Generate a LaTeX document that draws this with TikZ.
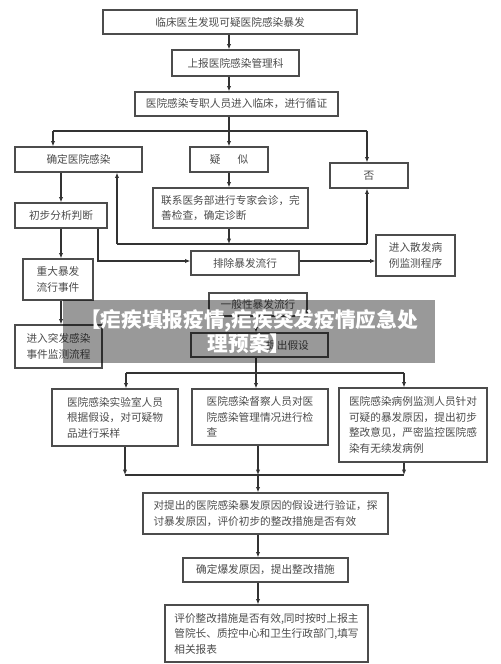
\documentclass[tikz,border=0pt]{standalone}
\usepackage{fontspec}
\setmainfont{Noto Sans CJK SC}
\usetikzlibrary{arrows.meta}
\begin{document}
\begin{tikzpicture}[x=0.75pt,y=-0.75pt,
  box/.style={draw=black!70, line width=0.9pt, fill=white, text=black!70, font=\fontsize{8}{11.6}\selectfont, align=left, inner sep=2pt},
  con/.style={draw=black!80, line width=0.8pt},
  arr/.style={con, -{Latex[length=4pt,width=3.2pt]}},
  banner/.style={fill=black, fill opacity=0.4, text opacity=1, text=white, font=\fontsize{15.5}{18}\selectfont\bfseries, align=center}]
\useasboundingbox (0,0) rectangle (500,664);
\fill[white] (0,0) rectangle (500,664);

\node[box, minimum width=190.5pt, minimum height=18pt] (n1) at (230,22) {临床医生发现可疑医院感染暴发};
\node[box, minimum width=95.25pt, minimum height=19.5pt] (n2) at (235.5,63) {上报医院感染管理科};
\node[box, minimum width=152.25pt, minimum height=18pt] (n3) at (236.5,104) {医院感染专职人员进入临床，进行循证};
\node[box, minimum width=95.25pt, minimum height=18.75pt] (n4) at (78.5,159.5) {确定医院感染};
\node[box, minimum width=58.5pt, minimum height=18.75pt] (n5) at (229,159.5) {疑\hspace{1.6em}似};
\node[box, minimum width=58.5pt, minimum height=18.75pt] (n6) at (369,175.5) {否};
\node[box, minimum width=116.25pt, minimum height=30pt] (n7) at (230.5,208) {联系医务部进行专家会诊，完\\善检查，确定诊断};
\node[box, minimum width=69pt, minimum height=18.75pt] (n8) at (61,215.5) {初步分析判断};
\node[box, minimum width=52.5pt, minimum height=30.75pt] (n9) at (58,279.5) {重大暴发\\流行事件};
\node[box, minimum width=65.25pt, minimum height=32.25pt] (n10) at (58.5,346.5) {进入突发感染\\事件监测流程};
\node[box, minimum width=81pt, minimum height=18pt] (n11) at (245,263) {排除暴发流行};
\node[box, minimum width=59.25pt, minimum height=30.75pt] (n12) at (415.5,255.5) {进入散发病\\例监测程序};
\node[box, minimum width=73.5pt, minimum height=17.25pt] (n13) at (258,304.5) {一般性暴发流行};
\node[box, minimum width=102.75pt, minimum height=18pt] (n14) at (259.5,345) {\hspace*{42pt}提出假设};
\node[box, minimum width=94.5pt, minimum height=42.75pt] (n15) at (115,417.5) {医院感染实验室人员\\根据假设，对可疑物\\品进行采样};
\node[box, minimum width=102pt, minimum height=42pt] (n16) at (260,417) {医院感染督察人员对医\\院感染管理情况进行检\\查};
\node[box, minimum width=111pt, minimum height=55.5pt] (n17) at (413,425) {医院感染病例监测人员针对\\可疑的暴发原因，提出初步\\整改意见，严密监控医院感\\染有无续发病例};
\node[box, minimum width=183.75pt, minimum height=30.75pt] (n18) at (265.5,513.5) {对提出的医院感染暴发原因的假设进行验证，探\\讨暴发原因，评价初步的整改措施是否有效};
\node[box, minimum width=123.75pt, minimum height=18pt] (n19) at (265.5,570) {确定爆发原因，提出整改措施};
\node[box, minimum width=152.25pt, minimum height=42.75pt] (n20) at (266.5,633.5) {评价整改措施是否有效,同时按时上报主\\管院长、质控中心和卫生行政部门,填写\\相关报表};

% upper connectors
\coordinate (vx) at (229,0);
\draw[arr] (n1.south -| vx) -- (n2.north -| vx);
\draw[arr] (n2.south -| vx) -- (n3.north -| vx);
\coordinate (j1) at (229,131);
\coordinate (a4) at (53,131);
\coordinate (a6) at (367,131);
\draw[con] (n3.south -| vx) -- (j1);
\draw[con] (a4) -- (a6);
\draw[arr] (a4) -- (a4 |- n4.north);
\draw[arr] (j1) -- (j1 |- n5.north);
\draw[arr] (a6) -- (a6 |- n6.north);
\draw[arr] (n5.south -| vx) -- (n7.north -| vx);
\coordinate (j2) at (229,244);
\coordinate (b4) at (117,244);
\coordinate (b6) at (367,244);
\draw[arr] (n7.south -| vx) -- (j2);
\draw[con] (b4) -- (b6);
\draw[arr] (b4) -- (b4 |- n4.south);
\draw[arr] (b6) -- (b6 |- n6.south);
\coordinate (cx) at (61,0);
\draw[arr] (n4.south -| cx) -- (n8.north -| cx);
\draw[arr] (n8.south -| cx) -- (n9.north -| cx);
\draw[arr] (n9.south -| cx) -- (n10.north -| cx);
\coordinate (c8) at (98,261);
\draw[arr] (n8.south -| c8) |- (n11.west |- c8);
\draw[arr] (n11.east |- c8) -- (n12.west |- c8);

% lower connectors
\coordinate (lx) at (256,0);
\draw[arr] (n13.south -| lx) -- (n14.north -| lx);
\coordinate (j3) at (256,373);
\coordinate (d1) at (126,373);
\coordinate (d3) at (404,373);
\draw[con] (n14.south -| lx) -- (j3);
\draw[con] (d1) -- (d3);
\draw[arr] (d1) -- (d1 |- n15.north);
\draw[arr] (j3) -- (j3 |- n16.north);
\draw[arr] (d3) -- (d3 |- n17.north);
\coordinate (e1) at (125,475);
\coordinate (e2) at (258,475);
\coordinate (e3) at (404,475);
\draw[arr] (n15.south -| e1) -- (e1);
\draw[arr] (n16.south -| e2) -- (e2);
\draw[arr] (n17.south -| e3) -- (e3);
\draw[con] (e1) -- (e3);
\draw[arr] (e2) -- (n18.north -| e2);
\draw[arr] (n18.south -| e2) -- (n19.north -| e2);
\draw[arr] (n19.south -| e2) -- (n20.north -| e2);

% overlay banner
\node[banner, minimum width=279pt, minimum height=47.25pt] (bn) at (249,331.5) {【疟疾填报疫情,疟疾突发疫情应急处\\理预案】};
\end{tikzpicture}
\end{document}
